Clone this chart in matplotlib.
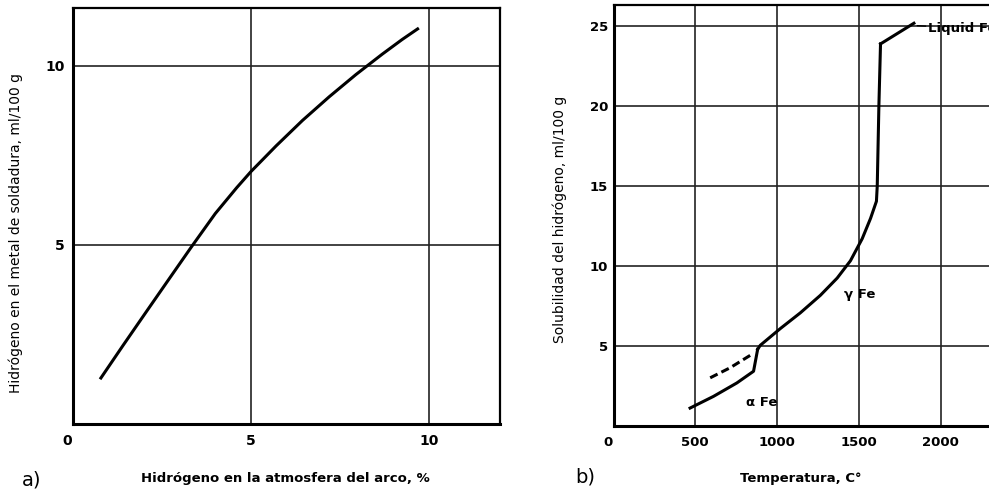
import numpy as np
import matplotlib.pyplot as plt
from matplotlib.transforms import ScaledTranslation

# a) hydrogen in weld metal vs hydrogen in arc atmosphere
arc_h2 = [0.76, 1.41, 2.07, 2.72, 3.33, 4.0, 4.6, 5.0, 5.71, 6.45, 7.2, 7.95,
          8.69, 9.25, 9.72]
weld_h2 = [1.25, 2.2, 3.15, 4.08, 4.95, 5.88, 6.6, 7.05, 7.77, 8.48, 9.14, 9.76,
           10.33, 10.74, 11.06]

# b) hydrogen solubility in iron vs temperature
alpha_T = [468, 611, 754, 856, 881]
alpha_s = [1.12, 1.85, 2.69, 3.42, 4.79]
gamma_T = [881, 897, 1020, 1142, 1264, 1367, 1448, 1520, 1571, 1607, 1612, 1622, 1632]
gamma_s = [4.79, 5.04, 6.09, 7.07, 8.16, 9.24, 10.32, 11.70, 12.97, 14.04, 15.0, 20.0, 23.87]
liquid_T = [1632, 1836]
liquid_s = [23.87, 25.16]
dashed_T = [591, 713, 846]
dashed_s = [3.01, 3.64, 4.48]

xticks_a = [0, 5, 10]
yticks_a = [5, 10]
xticks_b = [0, 500, 1000, 1500, 2000]
yticks_b = [5, 10, 15, 20, 25]

plt.rcParams['font.family'] = 'DejaVu Sans'

fig = plt.figure(figsize=(9.89, 4.9), dpi=100)
ax1 = fig.add_axes([73 / 989, 1 - 424 / 490, 427 / 989, 416 / 490])
ax2 = fig.add_axes([613.5 / 989, 1 - 426 / 490, 375.5 / 989, 421 / 490])

grid_kw = dict(color='#222222', lw=1.2)

# ---- panel a
ax1.plot(arc_h2, weld_h2, color='black', lw=2.2, solid_capstyle='butt',
         solid_joinstyle='round')
ax1.set_xlim(0, 12)
ax1.set_ylim(0, 11.62)
ax1.set_xticks(xticks_a)
ax1.set_xticklabels([str(v) for v in xticks_a])
ax1.set_yticks(yticks_a)
ax1.set_yticklabels([str(v) for v in yticks_a])
ax1.tick_params(axis='x', length=0, pad=7, labelsize=10)
ax1.tick_params(axis='y', length=0, pad=6, labelsize=10)
ax1.grid(True, **grid_kw)
ax1.set_xlabel('Hidrógeno en la atmosfera del arco, %', fontsize=9.5, fontweight='bold')
ax1.xaxis.set_label_coords(0.497, -0.115)
ax1.set_ylabel('Hidrógeno en el metal de soldadura, ml/100 g', fontsize=10)
ax1.yaxis.set_label_coords(-0.118, 0.46)

# ---- panel b
line_kw = dict(color='black', lw=2.2, solid_joinstyle='round')
ax2.plot(alpha_T, alpha_s, **line_kw)
ax2.plot(gamma_T, gamma_s, **line_kw)
ax2.plot(liquid_T, liquid_s, **line_kw)
ax2.plot(dashed_T, dashed_s, color='black', lw=2.2, dashes=(2.7, 1.4))
ax2.set_xlim(0, 2295)
ax2.set_ylim(0, 26.3)
ax2.set_xticks(xticks_b)
ax2.set_xticklabels([str(v) for v in xticks_b])
ax2.set_yticks(yticks_b)
ax2.set_yticklabels([str(v) for v in yticks_b])
ax2.tick_params(axis='x', length=0, pad=7, labelsize=9.5)
ax2.tick_params(axis='y', length=0, pad=4, labelsize=9.5)
ax2.grid(True, **grid_kw)
ax2.spines['right'].set_visible(False)
ax2.set_xlabel('Temperatura, C°', fontsize=9.5, fontweight='bold')
ax2.xaxis.set_label_coords(0.50, -0.109)
ax2.set_ylabel('Solubilidad del hidrógeno, ml/100 g', fontsize=10)
ax2.yaxis.set_label_coords(-0.125, 0.49)

ax2.annotate('Liquid Fe', xy=(liquid_T[-1] + 20, liquid_s[-1] - 0.15),
             xytext=(1925, 24.85), fontsize=9.5, fontweight='bold', va='center',
             arrowprops=dict(arrowstyle='-', color='black', lw=1, shrinkA=0, shrinkB=0))
ax2.text(903, 1.45, 'α Fe', fontsize=9.5, fontweight='bold', ha='center', va='center')
ax2.text(1503, 8.2, 'γ Fe', fontsize=9.5, fontweight='bold', ha='center', va='center')

for ax in (ax1, ax2):
    ax.set_axisbelow(True)
    for side in ('left', 'bottom'):
        ax.spines[side].set_linewidth(2.2)
    for side in ('top', 'right'):
        ax.spines[side].set_linewidth(1.6)
    for lbl in ax.get_xticklabels() + ax.get_yticklabels():
        lbl.set_fontweight('bold')
    # the origin label sits off to the lower left of the corner
    zero = ax.get_xticklabels()[0]
    zero.set_transform(zero.get_transform() + ScaledTranslation(-0.06, 0, fig.dpi_scale_trans))

fig.text(22 / 989, 1 - 480 / 490, 'a)', fontsize=14, va='center', ha='left')
fig.text(575 / 989, 1 - 477 / 490, 'b)', fontsize=14, va='center', ha='left')

fig.savefig('out.png', dpi=100)
